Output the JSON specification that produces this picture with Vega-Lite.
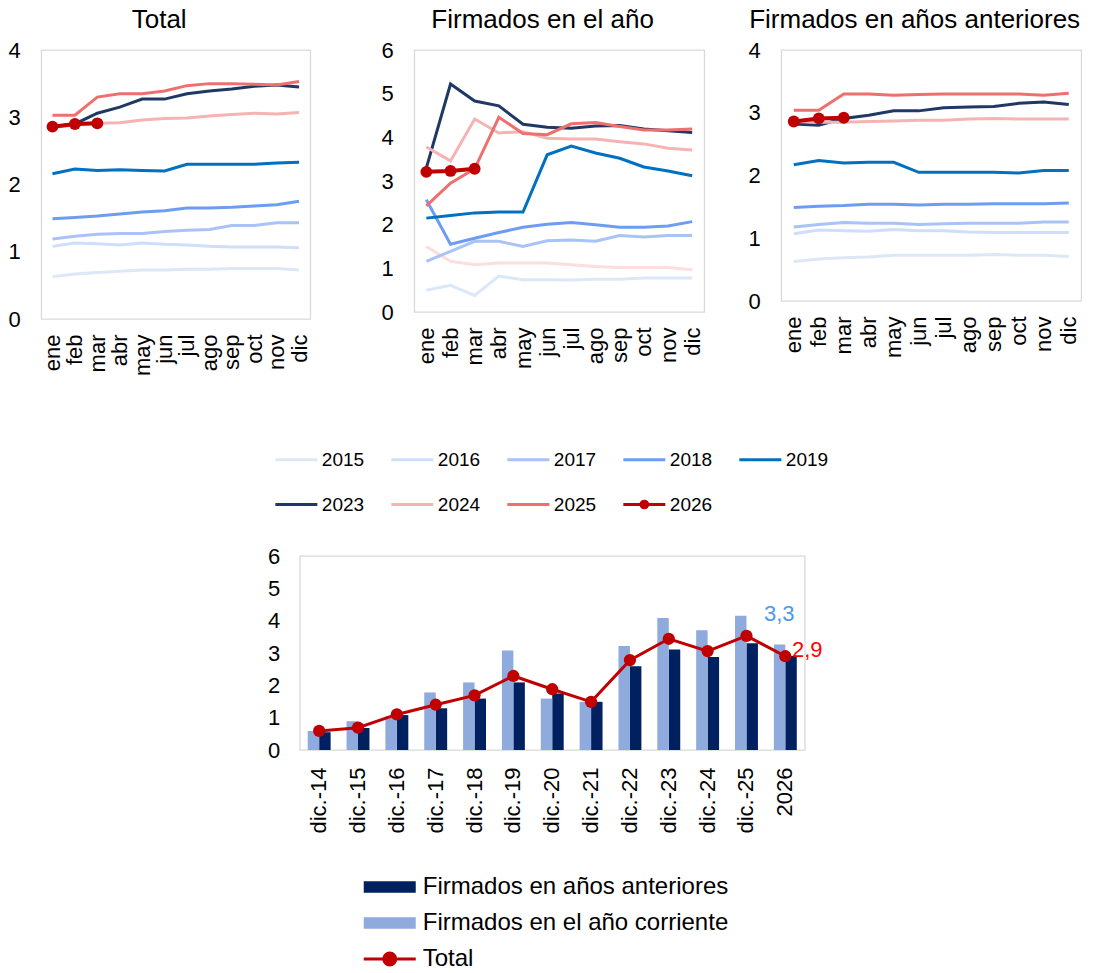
{
  "$schema": "https://vega.github.io/schema/vega-lite/v6.json",
  "padding": {"left": 7, "top": 6, "right": 0, "bottom": 0},
  "config": {
    "font": "Liberation Sans",
    "view": {"stroke": "#d9d9d9", "strokeWidth": 1.3},
    "axis": {"domain": false, "ticks": false, "grid": false, "labelFontSize": 22, "labelColor": "#000000", "labelFont": "Liberation Sans"},
    "title": {"fontSize": 26, "fontWeight": "normal", "color": "#000000", "font": "Liberation Sans", "baseline": "alphabetic", "offset": 6, "anchor": "middle", "frame": "bounds"}
  },
  "datasets": {
    "top": [
      {"p":"T","y":"2015","m":"ene","v":0.63},{"p":"T","y":"2015","m":"feb","v":0.67},{"p":"T","y":"2015","m":"mar","v":0.69},{"p":"T","y":"2015","m":"abr","v":0.71},{"p":"T","y":"2015","m":"may","v":0.73},{"p":"T","y":"2015","m":"jun","v":0.73},{"p":"T","y":"2015","m":"jul","v":0.74},{"p":"T","y":"2015","m":"ago","v":0.74},{"p":"T","y":"2015","m":"sep","v":0.75},{"p":"T","y":"2015","m":"oct","v":0.75},{"p":"T","y":"2015","m":"nov","v":0.75},{"p":"T","y":"2015","m":"dic","v":0.73},
      {"p":"T","y":"2016","m":"ene","v":1.08},{"p":"T","y":"2016","m":"feb","v":1.13},{"p":"T","y":"2016","m":"mar","v":1.12},{"p":"T","y":"2016","m":"abr","v":1.10},{"p":"T","y":"2016","m":"may","v":1.13},{"p":"T","y":"2016","m":"jun","v":1.11},{"p":"T","y":"2016","m":"jul","v":1.10},{"p":"T","y":"2016","m":"ago","v":1.08},{"p":"T","y":"2016","m":"sep","v":1.07},{"p":"T","y":"2016","m":"oct","v":1.07},{"p":"T","y":"2016","m":"nov","v":1.07},{"p":"T","y":"2016","m":"dic","v":1.06},
      {"p":"T","y":"2017","m":"ene","v":1.19},{"p":"T","y":"2017","m":"feb","v":1.23},{"p":"T","y":"2017","m":"mar","v":1.26},{"p":"T","y":"2017","m":"abr","v":1.27},{"p":"T","y":"2017","m":"may","v":1.27},{"p":"T","y":"2017","m":"jun","v":1.30},{"p":"T","y":"2017","m":"jul","v":1.32},{"p":"T","y":"2017","m":"ago","v":1.33},{"p":"T","y":"2017","m":"sep","v":1.39},{"p":"T","y":"2017","m":"oct","v":1.39},{"p":"T","y":"2017","m":"nov","v":1.43},{"p":"T","y":"2017","m":"dic","v":1.43},
      {"p":"T","y":"2018","m":"ene","v":1.49},{"p":"T","y":"2018","m":"feb","v":1.51},{"p":"T","y":"2018","m":"mar","v":1.53},{"p":"T","y":"2018","m":"abr","v":1.56},{"p":"T","y":"2018","m":"may","v":1.59},{"p":"T","y":"2018","m":"jun","v":1.61},{"p":"T","y":"2018","m":"jul","v":1.65},{"p":"T","y":"2018","m":"ago","v":1.65},{"p":"T","y":"2018","m":"sep","v":1.66},{"p":"T","y":"2018","m":"oct","v":1.68},{"p":"T","y":"2018","m":"nov","v":1.70},{"p":"T","y":"2018","m":"dic","v":1.75},
      {"p":"T","y":"2019","m":"ene","v":2.16},{"p":"T","y":"2019","m":"feb","v":2.23},{"p":"T","y":"2019","m":"mar","v":2.21},{"p":"T","y":"2019","m":"abr","v":2.22},{"p":"T","y":"2019","m":"may","v":2.21},{"p":"T","y":"2019","m":"jun","v":2.20},{"p":"T","y":"2019","m":"jul","v":2.30},{"p":"T","y":"2019","m":"ago","v":2.30},{"p":"T","y":"2019","m":"sep","v":2.30},{"p":"T","y":"2019","m":"oct","v":2.30},{"p":"T","y":"2019","m":"nov","v":2.32},{"p":"T","y":"2019","m":"dic","v":2.33},
      {"p":"T","y":"2023","m":"ene","v":2.86},{"p":"T","y":"2023","m":"feb","v":2.90},{"p":"T","y":"2023","m":"mar","v":3.06},{"p":"T","y":"2023","m":"abr","v":3.15},{"p":"T","y":"2023","m":"may","v":3.27},{"p":"T","y":"2023","m":"jun","v":3.27},{"p":"T","y":"2023","m":"jul","v":3.35},{"p":"T","y":"2023","m":"ago","v":3.39},{"p":"T","y":"2023","m":"sep","v":3.42},{"p":"T","y":"2023","m":"oct","v":3.46},{"p":"T","y":"2023","m":"nov","v":3.48},{"p":"T","y":"2023","m":"dic","v":3.45},
      {"p":"T","y":"2024","m":"ene","v":2.85},{"p":"T","y":"2024","m":"feb","v":2.88},{"p":"T","y":"2024","m":"mar","v":2.91},{"p":"T","y":"2024","m":"abr","v":2.92},{"p":"T","y":"2024","m":"may","v":2.96},{"p":"T","y":"2024","m":"jun","v":2.98},{"p":"T","y":"2024","m":"jul","v":2.99},{"p":"T","y":"2024","m":"ago","v":3.02},{"p":"T","y":"2024","m":"sep","v":3.04},{"p":"T","y":"2024","m":"oct","v":3.06},{"p":"T","y":"2024","m":"nov","v":3.05},{"p":"T","y":"2024","m":"dic","v":3.07},
      {"p":"T","y":"2025","m":"ene","v":3.03},{"p":"T","y":"2025","m":"feb","v":3.03},{"p":"T","y":"2025","m":"mar","v":3.30},{"p":"T","y":"2025","m":"abr","v":3.35},{"p":"T","y":"2025","m":"may","v":3.35},{"p":"T","y":"2025","m":"jun","v":3.39},{"p":"T","y":"2025","m":"jul","v":3.47},{"p":"T","y":"2025","m":"ago","v":3.50},{"p":"T","y":"2025","m":"sep","v":3.50},{"p":"T","y":"2025","m":"oct","v":3.49},{"p":"T","y":"2025","m":"nov","v":3.48},{"p":"T","y":"2025","m":"dic","v":3.53},
      {"p":"T","y":"2026","m":"ene","v":2.86},{"p":"T","y":"2026","m":"feb","v":2.90},{"p":"T","y":"2026","m":"mar","v":2.91},

      {"p":"A","y":"2015","m":"ene","v":0.50},{"p":"A","y":"2015","m":"feb","v":0.61},{"p":"A","y":"2015","m":"mar","v":0.38},{"p":"A","y":"2015","m":"abr","v":0.82},{"p":"A","y":"2015","m":"may","v":0.74},{"p":"A","y":"2015","m":"jun","v":0.74},{"p":"A","y":"2015","m":"jul","v":0.73},{"p":"A","y":"2015","m":"ago","v":0.75},{"p":"A","y":"2015","m":"sep","v":0.75},{"p":"A","y":"2015","m":"oct","v":0.78},{"p":"A","y":"2015","m":"nov","v":0.78},{"p":"A","y":"2015","m":"dic","v":0.78},
      {"p":"A","y":"2016","m":"ene","v":1.50},{"p":"A","y":"2016","m":"feb","v":1.16},{"p":"A","y":"2016","m":"mar","v":1.08},{"p":"A","y":"2016","m":"abr","v":1.12},{"p":"A","y":"2016","m":"may","v":1.12},{"p":"A","y":"2016","m":"jun","v":1.12},{"p":"A","y":"2016","m":"jul","v":1.08},{"p":"A","y":"2016","m":"ago","v":1.04},{"p":"A","y":"2016","m":"sep","v":1.02},{"p":"A","y":"2016","m":"oct","v":1.02},{"p":"A","y":"2016","m":"nov","v":1.02},{"p":"A","y":"2016","m":"dic","v":0.97},
      {"p":"A","y":"2017","m":"ene","v":1.16},{"p":"A","y":"2017","m":"feb","v":1.39},{"p":"A","y":"2017","m":"mar","v":1.62},{"p":"A","y":"2017","m":"abr","v":1.62},{"p":"A","y":"2017","m":"may","v":1.50},{"p":"A","y":"2017","m":"jun","v":1.63},{"p":"A","y":"2017","m":"jul","v":1.65},{"p":"A","y":"2017","m":"ago","v":1.62},{"p":"A","y":"2017","m":"sep","v":1.75},{"p":"A","y":"2017","m":"oct","v":1.72},{"p":"A","y":"2017","m":"nov","v":1.75},{"p":"A","y":"2017","m":"dic","v":1.75},
      {"p":"A","y":"2018","m":"ene","v":2.57},{"p":"A","y":"2018","m":"feb","v":1.55},{"p":"A","y":"2018","m":"mar","v":1.69},{"p":"A","y":"2018","m":"abr","v":1.82},{"p":"A","y":"2018","m":"may","v":1.94},{"p":"A","y":"2018","m":"jun","v":2.01},{"p":"A","y":"2018","m":"jul","v":2.05},{"p":"A","y":"2018","m":"ago","v":2.00},{"p":"A","y":"2018","m":"sep","v":1.94},{"p":"A","y":"2018","m":"oct","v":1.94},{"p":"A","y":"2018","m":"nov","v":1.97},{"p":"A","y":"2018","m":"dic","v":2.07},
      {"p":"A","y":"2019","m":"ene","v":2.15},{"p":"A","y":"2019","m":"feb","v":2.21},{"p":"A","y":"2019","m":"mar","v":2.27},{"p":"A","y":"2019","m":"abr","v":2.29},{"p":"A","y":"2019","m":"may","v":2.29},{"p":"A","y":"2019","m":"jun","v":3.60},{"p":"A","y":"2019","m":"jul","v":3.80},{"p":"A","y":"2019","m":"ago","v":3.64},{"p":"A","y":"2019","m":"sep","v":3.52},{"p":"A","y":"2019","m":"oct","v":3.32},{"p":"A","y":"2019","m":"nov","v":3.23},{"p":"A","y":"2019","m":"dic","v":3.12},
      {"p":"A","y":"2023","m":"ene","v":3.30},{"p":"A","y":"2023","m":"feb","v":5.22},{"p":"A","y":"2023","m":"mar","v":4.83},{"p":"A","y":"2023","m":"abr","v":4.72},{"p":"A","y":"2023","m":"may","v":4.30},{"p":"A","y":"2023","m":"jun","v":4.23},{"p":"A","y":"2023","m":"jul","v":4.21},{"p":"A","y":"2023","m":"ago","v":4.26},{"p":"A","y":"2023","m":"sep","v":4.27},{"p":"A","y":"2023","m":"oct","v":4.19},{"p":"A","y":"2023","m":"nov","v":4.15},{"p":"A","y":"2023","m":"dic","v":4.11},
      {"p":"A","y":"2024","m":"ene","v":3.78},{"p":"A","y":"2024","m":"feb","v":3.46},{"p":"A","y":"2024","m":"mar","v":4.42},{"p":"A","y":"2024","m":"abr","v":4.10},{"p":"A","y":"2024","m":"may","v":4.13},{"p":"A","y":"2024","m":"jun","v":3.98},{"p":"A","y":"2024","m":"jul","v":3.96},{"p":"A","y":"2024","m":"ago","v":3.96},{"p":"A","y":"2024","m":"sep","v":3.90},{"p":"A","y":"2024","m":"oct","v":3.85},{"p":"A","y":"2024","m":"nov","v":3.75},{"p":"A","y":"2024","m":"dic","v":3.71},
      {"p":"A","y":"2025","m":"ene","v":2.43},{"p":"A","y":"2025","m":"feb","v":2.95},{"p":"A","y":"2025","m":"mar","v":3.28},{"p":"A","y":"2025","m":"abr","v":4.46},{"p":"A","y":"2025","m":"may","v":4.09},{"p":"A","y":"2025","m":"jun","v":4.06},{"p":"A","y":"2025","m":"jul","v":4.31},{"p":"A","y":"2025","m":"ago","v":4.34},{"p":"A","y":"2025","m":"sep","v":4.25},{"p":"A","y":"2025","m":"oct","v":4.17},{"p":"A","y":"2025","m":"nov","v":4.17},{"p":"A","y":"2025","m":"dic","v":4.19},
      {"p":"A","y":"2026","m":"ene","v":3.21},{"p":"A","y":"2026","m":"feb","v":3.23},{"p":"A","y":"2026","m":"mar","v":3.28},

      {"p":"P","y":"2015","m":"ene","v":0.63},{"p":"P","y":"2015","m":"feb","v":0.67},{"p":"P","y":"2015","m":"mar","v":0.69},{"p":"P","y":"2015","m":"abr","v":0.70},{"p":"P","y":"2015","m":"may","v":0.73},{"p":"P","y":"2015","m":"jun","v":0.73},{"p":"P","y":"2015","m":"jul","v":0.73},{"p":"P","y":"2015","m":"ago","v":0.73},{"p":"P","y":"2015","m":"sep","v":0.74},{"p":"P","y":"2015","m":"oct","v":0.73},{"p":"P","y":"2015","m":"nov","v":0.73},{"p":"P","y":"2015","m":"dic","v":0.71},
      {"p":"P","y":"2016","m":"ene","v":1.07},{"p":"P","y":"2016","m":"feb","v":1.13},{"p":"P","y":"2016","m":"mar","v":1.12},{"p":"P","y":"2016","m":"abr","v":1.11},{"p":"P","y":"2016","m":"may","v":1.14},{"p":"P","y":"2016","m":"jun","v":1.12},{"p":"P","y":"2016","m":"jul","v":1.12},{"p":"P","y":"2016","m":"ago","v":1.10},{"p":"P","y":"2016","m":"sep","v":1.09},{"p":"P","y":"2016","m":"oct","v":1.09},{"p":"P","y":"2016","m":"nov","v":1.09},{"p":"P","y":"2016","m":"dic","v":1.09},
      {"p":"P","y":"2017","m":"ene","v":1.18},{"p":"P","y":"2017","m":"feb","v":1.22},{"p":"P","y":"2017","m":"mar","v":1.25},{"p":"P","y":"2017","m":"abr","v":1.24},{"p":"P","y":"2017","m":"may","v":1.24},{"p":"P","y":"2017","m":"jun","v":1.22},{"p":"P","y":"2017","m":"jul","v":1.23},{"p":"P","y":"2017","m":"ago","v":1.24},{"p":"P","y":"2017","m":"sep","v":1.24},{"p":"P","y":"2017","m":"oct","v":1.24},{"p":"P","y":"2017","m":"nov","v":1.26},{"p":"P","y":"2017","m":"dic","v":1.26},
      {"p":"P","y":"2018","m":"ene","v":1.49},{"p":"P","y":"2018","m":"feb","v":1.51},{"p":"P","y":"2018","m":"mar","v":1.52},{"p":"P","y":"2018","m":"abr","v":1.54},{"p":"P","y":"2018","m":"may","v":1.54},{"p":"P","y":"2018","m":"jun","v":1.53},{"p":"P","y":"2018","m":"jul","v":1.54},{"p":"P","y":"2018","m":"ago","v":1.54},{"p":"P","y":"2018","m":"sep","v":1.55},{"p":"P","y":"2018","m":"oct","v":1.55},{"p":"P","y":"2018","m":"nov","v":1.55},{"p":"P","y":"2018","m":"dic","v":1.56},
      {"p":"P","y":"2019","m":"ene","v":2.17},{"p":"P","y":"2019","m":"feb","v":2.24},{"p":"P","y":"2019","m":"mar","v":2.20},{"p":"P","y":"2019","m":"abr","v":2.21},{"p":"P","y":"2019","m":"may","v":2.21},{"p":"P","y":"2019","m":"jun","v":2.05},{"p":"P","y":"2019","m":"jul","v":2.05},{"p":"P","y":"2019","m":"ago","v":2.05},{"p":"P","y":"2019","m":"sep","v":2.05},{"p":"P","y":"2019","m":"oct","v":2.04},{"p":"P","y":"2019","m":"nov","v":2.08},{"p":"P","y":"2019","m":"dic","v":2.08},
      {"p":"P","y":"2023","m":"ene","v":2.82},{"p":"P","y":"2023","m":"feb","v":2.80},{"p":"P","y":"2023","m":"mar","v":2.91},{"p":"P","y":"2023","m":"abr","v":2.96},{"p":"P","y":"2023","m":"may","v":3.03},{"p":"P","y":"2023","m":"jun","v":3.03},{"p":"P","y":"2023","m":"jul","v":3.08},{"p":"P","y":"2023","m":"ago","v":3.09},{"p":"P","y":"2023","m":"sep","v":3.10},{"p":"P","y":"2023","m":"oct","v":3.15},{"p":"P","y":"2023","m":"nov","v":3.17},{"p":"P","y":"2023","m":"dic","v":3.13},
      {"p":"P","y":"2024","m":"ene","v":2.86},{"p":"P","y":"2024","m":"feb","v":2.85},{"p":"P","y":"2024","m":"mar","v":2.85},{"p":"P","y":"2024","m":"abr","v":2.86},{"p":"P","y":"2024","m":"may","v":2.87},{"p":"P","y":"2024","m":"jun","v":2.88},{"p":"P","y":"2024","m":"jul","v":2.88},{"p":"P","y":"2024","m":"ago","v":2.90},{"p":"P","y":"2024","m":"sep","v":2.91},{"p":"P","y":"2024","m":"oct","v":2.90},{"p":"P","y":"2024","m":"nov","v":2.90},{"p":"P","y":"2024","m":"dic","v":2.90},
      {"p":"P","y":"2025","m":"ene","v":3.04},{"p":"P","y":"2025","m":"feb","v":3.04},{"p":"P","y":"2025","m":"mar","v":3.30},{"p":"P","y":"2025","m":"abr","v":3.30},{"p":"P","y":"2025","m":"may","v":3.28},{"p":"P","y":"2025","m":"jun","v":3.29},{"p":"P","y":"2025","m":"jul","v":3.30},{"p":"P","y":"2025","m":"ago","v":3.30},{"p":"P","y":"2025","m":"sep","v":3.30},{"p":"P","y":"2025","m":"oct","v":3.30},{"p":"P","y":"2025","m":"nov","v":3.28},{"p":"P","y":"2025","m":"dic","v":3.31},
      {"p":"P","y":"2026","m":"ene","v":2.86},{"p":"P","y":"2026","m":"feb","v":2.91},{"p":"P","y":"2026","m":"mar","v":2.92}
    ],
    "bot": [
      {"c":"dic.-14","s":"Firmados en años anteriores","v":0.55},{"c":"dic.-15","s":"Firmados en años anteriores","v":0.68},{"c":"dic.-16","s":"Firmados en años anteriores","v":1.08},{"c":"dic.-17","s":"Firmados en años anteriores","v":1.29},{"c":"dic.-18","s":"Firmados en años anteriores","v":1.59},{"c":"dic.-19","s":"Firmados en años anteriores","v":2.09},{"c":"dic.-20","s":"Firmados en años anteriores","v":1.75},{"c":"dic.-21","s":"Firmados en años anteriores","v":1.49},{"c":"dic.-22","s":"Firmados en años anteriores","v":2.59},{"c":"dic.-23","s":"Firmados en años anteriores","v":3.11},{"c":"dic.-24","s":"Firmados en años anteriores","v":2.88},{"c":"dic.-25","s":"Firmados en años anteriores","v":3.30},{"c":"2026","s":"Firmados en años anteriores","v":2.91},
      {"c":"dic.-14","s":"Firmados en el año corriente","v":0.59},{"c":"dic.-15","s":"Firmados en el año corriente","v":0.89},{"c":"dic.-16","s":"Firmados en el año corriente","v":1.05},{"c":"dic.-17","s":"Firmados en el año corriente","v":1.78},{"c":"dic.-18","s":"Firmados en el año corriente","v":2.09},{"c":"dic.-19","s":"Firmados en el año corriente","v":3.08},{"c":"dic.-20","s":"Firmados en el año corriente","v":1.59},{"c":"dic.-21","s":"Firmados en el año corriente","v":1.49},{"c":"dic.-22","s":"Firmados en el año corriente","v":3.22},{"c":"dic.-23","s":"Firmados en el año corriente","v":4.08},{"c":"dic.-24","s":"Firmados en el año corriente","v":3.70},{"c":"dic.-25","s":"Firmados en el año corriente","v":4.15},{"c":"2026","s":"Firmados en el año corriente","v":3.26},
      {"c":"dic.-14","s":"Total","v":0.59},{"c":"dic.-15","s":"Total","v":0.69},{"c":"dic.-16","s":"Total","v":1.10},{"c":"dic.-17","s":"Total","v":1.40},{"c":"dic.-18","s":"Total","v":1.69},{"c":"dic.-19","s":"Total","v":2.29},{"c":"dic.-20","s":"Total","v":1.88},{"c":"dic.-21","s":"Total","v":1.49},{"c":"dic.-22","s":"Total","v":2.78},{"c":"dic.-23","s":"Total","v":3.44},{"c":"dic.-24","s":"Total","v":3.06},{"c":"dic.-25","s":"Total","v":3.53},{"c":"2026","s":"Total","v":2.90}
    ],
    "years": [{"y":"2015"},{"y":"2016"},{"y":"2017"},{"y":"2018"},{"y":"2019"},{"y":"2023"},{"y":"2024"},{"y":"2025"},{"y":"2026"}]
  },
  "vconcat": [
    {
      "vconcat": [
        {
          "hconcat": [
            {
              "width": 269, "height": 269,
              "title": "Total",
              "data": {"name": "top"},
              "transform": [{"filter": "datum.p === 'T'"}],
              "encoding": {
                "x": {"field": "m", "type": "ordinal", "sort": ["ene","feb","mar","abr","may","jun","jul","ago","sep","oct","nov","dic"], "scale": {"type": "point", "padding": 0.5}, "axis": {"labelAngle": -90, "labelPadding": 15, "title": null}},
                "y": {"field": "v", "type": "quantitative", "scale": {"domain": [0, 4], "nice": false}, "axis": {"values": [0,1,2,3,4], "title": null, "labelPadding": 21}}
              },
              "layer": [
                {"transform": [{"filter": "datum.y !== '2026'"}], "mark": {"type": "line", "strokeWidth": 3}, "encoding": {"color": {"field": "y", "type": "nominal", "scale": {"domain": ["2015","2016","2017","2018","2019","2023","2024","2025"], "range": ["#dce8f6","#cfdef9","#a9c3f7","#6e9cf2","#0070c0","#1f3864","#f5b3b3","#ef6f6f"]}, "legend": null}}},
                {"transform": [{"filter": "datum.y === '2026'"}], "mark": {"type": "line", "strokeWidth": 4, "color": "#c00000"}, "encoding": {}},
                {"transform": [{"filter": "datum.y === '2026'"}], "mark": {"type": "point", "filled": true, "opacity": 1, "size": 140, "color": "#c00000"}, "encoding": {}}
              ]
            },
            {
              "hconcat": [
                {
                  "width": 290, "height": 262,
                  "title": "Firmados en el año",
                  "data": {"name": "top"},
                  "transform": [{"filter": "datum.p === 'A'"}],
                  "encoding": {
                    "x": {"field": "m", "type": "ordinal", "sort": ["ene","feb","mar","abr","may","jun","jul","ago","sep","oct","nov","dic"], "scale": {"type": "point", "padding": 0.5}, "axis": {"labelAngle": -90, "labelPadding": 15, "title": null}},
                    "y": {"field": "v", "type": "quantitative", "scale": {"domain": [0, 6], "nice": false}, "axis": {"values": [0,1,2,3,4,5,6], "title": null, "labelPadding": 21}}
                  },
                  "layer": [
                    {"transform": [{"filter": "datum.y !== '2026'"}], "mark": {"type": "line", "strokeWidth": 3}, "encoding": {"color": {"field": "y", "type": "nominal", "scale": {"domain": ["2015","2016","2017","2018","2019","2023","2024","2025"], "range": ["#dce8f6","#fcdede","#a9c3f7","#6e9cf2","#0070c0","#1f3864","#f5b3b3","#ef6f6f"]}, "legend": null}}},
                    {"transform": [{"filter": "datum.y === '2026'"}], "mark": {"type": "line", "strokeWidth": 4, "color": "#c00000"}, "encoding": {}},
                    {"transform": [{"filter": "datum.y === '2026'"}], "mark": {"type": "point", "filled": true, "opacity": 1, "size": 140, "color": "#c00000"}, "encoding": {}}
                  ]
                },
                {
                  "width": 300, "height": 251,
                  "title": "Firmados en años anteriores",
                  "data": {"name": "top"},
                  "transform": [{"filter": "datum.p === 'P'"}],
                  "encoding": {
                    "x": {"field": "m", "type": "ordinal", "sort": ["ene","feb","mar","abr","may","jun","jul","ago","sep","oct","nov","dic"], "scale": {"type": "point", "padding": 0.5}, "axis": {"labelAngle": -90, "labelPadding": 15, "title": null}},
                    "y": {"field": "v", "type": "quantitative", "scale": {"domain": [0, 4], "nice": false}, "axis": {"values": [0,1,2,3,4], "title": null, "labelPadding": 21}}
                  },
                  "layer": [
                    {"transform": [{"filter": "datum.y !== '2026'"}], "mark": {"type": "line", "strokeWidth": 3}, "encoding": {"color": {"field": "y", "type": "nominal", "scale": {"domain": ["2015","2016","2017","2018","2019","2023","2024","2025"], "range": ["#dce8f6","#cfdef9","#a9c3f7","#6e9cf2","#0070c0","#1f3864","#f5b3b3","#ef6f6f"]}, "legend": null}}},
                    {"transform": [{"filter": "datum.y === '2026'"}], "mark": {"type": "line", "strokeWidth": 4, "color": "#c00000"}, "encoding": {}},
                    {"transform": [{"filter": "datum.y === '2026'"}], "mark": {"type": "point", "filled": true, "opacity": 1, "size": 140, "color": "#c00000"}, "encoding": {}}
                  ]
                }
              ],
              "spacing": 42,
              "resolve": {"scale": {"color": "independent"}, "legend": {"color": "independent"}}
            }
          ],
          "spacing": 69,
          "resolve": {"scale": {"color": "independent"}, "legend": {"color": "independent"}}
        },
        {
          "width": 575, "height": 1,
          "view": {"stroke": "transparent"},
          "data": {"name": "years"},
          "mark": {"type": "line", "opacity": 0},
          "encoding": {
            "color": {"field": "y", "type": "nominal",
              "scale": {"domain": ["2015","2016","2017","2018","2019","2023","2024","2025","2026"], "range": ["#dce8f6","#cfdef9","#a9c3f7","#6e9cf2","#0070c0","#1f3864","#f5b3b3","#ef6f6f","#c00000"]},
              "legend": {
                "orient": "none", "legendX": 0, "legendY": 0, "columns": 5, "direction": "horizontal", "title": null,
                "symbolType": "stroke", "symbolSize": 1764, "symbolStrokeWidth": 3, "symbolOpacity": 1,
                "labelFontSize": 19, "labelFont": "Liberation Sans", "labelColor": "#000000", "labelOffset": 3,
                "columnPadding": 20, "rowPadding": 12,
                "encode": {"symbols": {"update": {
                  "shape": {"signal": "datum.value === '2026' ? 'M-1,0H1M-0.16,0A0.16,0.16 0 1 0 0.16,0A0.16,0.16 0 1 0 -0.16,0Z' : 'stroke'"},
                  "fill": {"signal": "datum.value === '2026' ? '#c00000' : 'transparent'"},
                  "strokeWidth": {"value": 3},
                  "opacity": {"value": 1}
                }}}
              }
            }
          }
        }
      ],
      "spacing": 59,
      "center": true,
      "resolve": {"scale": {"color": "independent"}, "legend": {"color": "independent"}}
    },
    {
      "width": 505, "height": 194,
      "data": {"name": "bot"},
      "encoding": {
        "x": {"field": "c", "type": "nominal", "sort": ["dic.-14","dic.-15","dic.-16","dic.-17","dic.-18","dic.-19","dic.-20","dic.-21","dic.-22","dic.-23","dic.-24","dic.-25","2026"], "scale": {"paddingInner": 0.41, "paddingOuter": 0.205}, "axis": {"labelAngle": -90, "labelPadding": 17, "title": null}},
        "y": {"field": "v", "type": "quantitative", "scale": {"domain": [0, 6], "nice": false}, "axis": {"values": [0,1,2,3,4,5,6], "title": null, "labelPadding": 20}}
      },
      "layer": [
        {
          "transform": [{"filter": "datum.s !== 'Total'"}],
          "mark": {"type": "bar"},
          "encoding": {
            "xOffset": {"field": "s", "type": "nominal", "sort": ["Firmados en el año corriente", "Firmados en años anteriores"]},
            "color": {"field": "s", "type": "nominal",
              "scale": {"domain": ["Firmados en años anteriores","Firmados en el año corriente","Total"], "range": ["#002060","#8faadc","#c00000"]},
              "legend": {
                "orient": "none", "legendX": 78, "legendY": 319, "direction": "vertical", "title": null,
                "symbolSize": 2704, "symbolStrokeWidth": 0, "symbolOpacity": 1,
                "labelFontSize": 24, "labelFont": "Liberation Sans", "labelColor": "#000000", "labelOffset": 21, "labelLimit": 500, "rowPadding": 12,
                "encode": {"symbols": {"update": {
                  "shape": {"signal": "datum.value === 'Total' ? 'M-1,0H1M-0.23,0A0.23,0.23 0 1 0 0.23,0A0.23,0.23 0 1 0 -0.23,0Z' : 'M-1,-0.22H1V0.22H-1Z'"},
                  "fill": {"signal": "datum.value === 'Total' ? '#c00000' : (datum.value === 'Firmados en años anteriores' ? '#002060' : '#8faadc')"},
                  "stroke": {"signal": "datum.value === 'Total' ? '#c00000' : 'transparent'"},
                  "strokeWidth": {"signal": "datum.value === 'Total' ? 3 : 0"},
                  "opacity": {"value": 1}
                }}}
              }
            }
          }
        },
        {
          "transform": [{"filter": "datum.s === 'Total'"}],
          "mark": {"type": "line", "strokeWidth": 3},
          "encoding": {"color": {"field": "s", "type": "nominal"}}
        },
        {
          "transform": [{"filter": "datum.s === 'Total'"}],
          "mark": {"type": "point", "filled": true, "opacity": 1, "size": 150},
          "encoding": {"color": {"field": "s", "type": "nominal"}}
        },
        {
          "transform": [{"filter": "datum.c === '2026' && datum.s === 'Firmados en el año corriente'"}],
          "mark": {"type": "text", "color": "#4a9ae8", "fontSize": 22, "dx": -6, "dy": -31, "font": "Liberation Sans"},
          "encoding": {"text": {"value": "3,3"}}
        },
        {
          "transform": [{"filter": "datum.c === '2026' && datum.s === 'Total'"}],
          "mark": {"type": "text", "color": "#ff0000", "fontSize": 22, "dx": 22, "dy": -6, "font": "Liberation Sans"},
          "encoding": {"text": {"value": "2,9"}}
        }
      ]
    }
  ],
  "spacing": 28,
  "center": true,
  "resolve": {"scale": {"color": "independent"}, "legend": {"color": "independent"}}
}
